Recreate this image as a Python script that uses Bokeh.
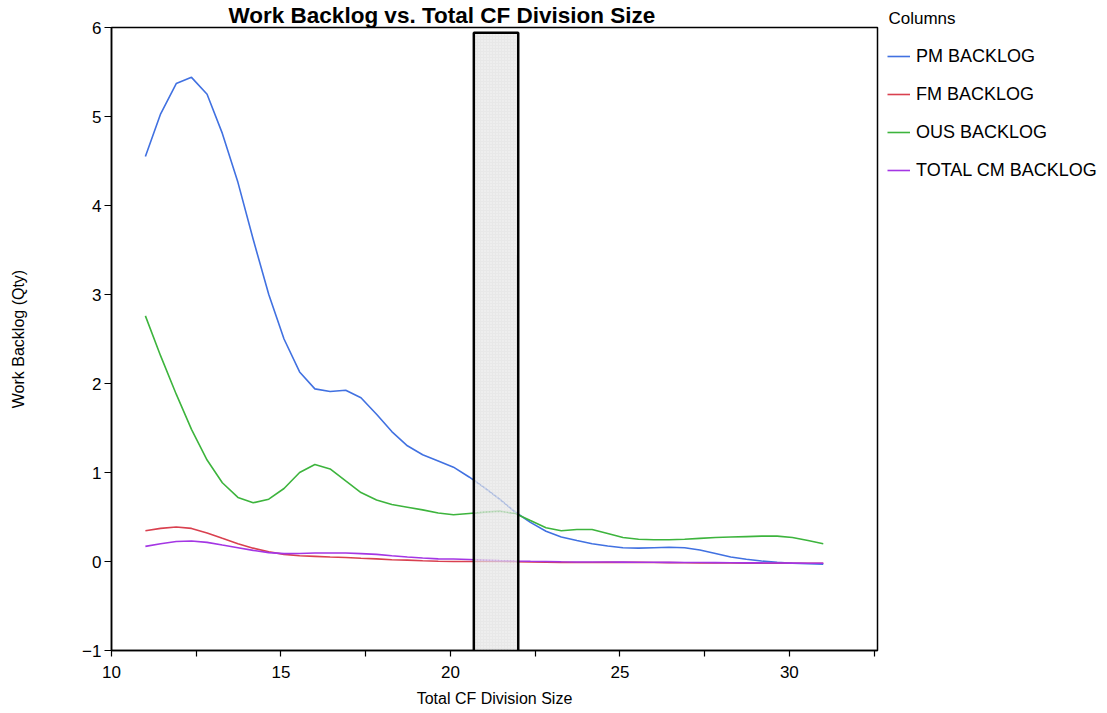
from bokeh.plotting import figure
from bokeh.layouts import row
from bokeh.models import Range1d, FixedTicker, Legend, LegendItem
from bokeh.embed import file_html
from bokeh.resources import INLINE

# Total CF division size (x) and the smoothed backlog curves
division_size = [11.00, 11.45, 11.91, 12.36, 12.82, 13.27, 13.73, 14.18, 14.64, 15.09,
                 15.55, 16.00, 16.45, 16.91, 17.36, 17.82, 18.27, 18.73, 19.18, 19.64,
                 20.09, 20.55, 21.00, 21.45, 21.91, 22.36, 22.82, 23.27, 23.73, 24.18,
                 24.64, 25.09, 25.55, 26.00, 26.45, 26.91, 27.36, 27.82, 28.27, 28.73,
                 29.18, 29.64, 30.09, 30.55, 31.00]

pm_backlog = [4.55, 5.03, 5.37, 5.44, 5.25, 4.81, 4.26, 3.62, 3.00, 2.50,
              2.13, 1.94, 1.91, 1.925, 1.84, 1.655, 1.46, 1.30, 1.20, 1.13,
              1.06, 0.95, 0.83, 0.70, 0.556, 0.44, 0.34, 0.275, 0.235, 0.20,
              0.175, 0.155, 0.15, 0.155, 0.16, 0.155, 0.13, 0.09, 0.05, 0.025,
              0.005, -0.01, -0.02, -0.025, -0.03]

fm_backlog = [0.345, 0.372, 0.387, 0.372, 0.32, 0.26, 0.20, 0.15, 0.11, 0.08,
              0.065, 0.058, 0.05, 0.045, 0.037, 0.03, 0.02, 0.015, 0.008, 0.003,
              0.0, 0.0, 0.002, 0.0, -0.002, -0.005, -0.008, -0.01, -0.012, -0.012,
              -0.01, -0.01, -0.01, -0.012, -0.013, -0.014, -0.015, -0.016, -0.017, -0.018,
              -0.019, -0.02, -0.02, -0.02, -0.02]

ous_backlog = [2.76, 2.31, 1.88, 1.485, 1.14, 0.885, 0.72, 0.66, 0.70, 0.82,
               1.00, 1.09, 1.04, 0.905, 0.775, 0.69, 0.64, 0.61, 0.58, 0.545,
               0.525, 0.54, 0.555, 0.565, 0.54, 0.46, 0.38, 0.345, 0.36, 0.36,
               0.315, 0.27, 0.25, 0.245, 0.245, 0.25, 0.26, 0.27, 0.275, 0.28,
               0.285, 0.285, 0.27, 0.235, 0.20]

total_cm_backlog = [0.17, 0.20, 0.225, 0.23, 0.215, 0.185, 0.155, 0.125, 0.10, 0.088,
                    0.09, 0.095, 0.095, 0.095, 0.088, 0.08, 0.065, 0.05, 0.04, 0.03,
                    0.028, 0.022, 0.016, 0.01, 0.006, 0.003, 0.0, -0.003, -0.005, -0.006,
                    -0.006, -0.007, -0.008, -0.009, -0.01, -0.011, -0.012, -0.013, -0.014, -0.015,
                    -0.016, -0.017, -0.018, -0.019, -0.02]

series_names = ["PM BACKLOG", "FM BACKLOG", "OUS BACKLOG", "TOTAL CM BACKLOG"]
series_values = [pm_backlog, fm_backlog, ous_backlog, total_cm_backlog]
series_colors = ["#4171e1", "#d9404f", "#3db43d", "#a436e4"]

# highlighted division-size band
band_x0, band_x1 = 20.69, 22.0
band_bottom, band_top = -1.01, 5.94

x_ticks = [10, 15, 20, 25, 30]
x_minor_ticks = [12.5, 17.5, 22.5, 27.5, 32.5]
y_ticks = [-1, 0, 1, 2, 3, 4, 5, 6]

FONT = "Liberation Sans"
LINE_W = 1.6

# ---- main chart ----
p = figure(width=879, height=713, output_backend="svg", toolbar_location=None,
           x_range=Range1d(10, 32.6), y_range=Range1d(-1, 6),
           min_border_left=111, min_border_right=2, min_border_top=0,
           min_border_bottom=63)
p.background_fill_color = "white"
p.border_fill_color = "white"
p.outline_line_color = "black"
p.outline_line_width = 1.5
p.grid.visible = False

p.title.text = "Work Backlog vs. Total CF Division Size"
p.title.align = "left"
p.title.offset = 117
p.title.standoff = 0
p.title.text_font = FONT
p.title.text_font_size = "22.5px"
p.title.text_font_style = "bold"
p.title.text_color = "black"

for vals, col in zip(series_values, series_colors):
    p.line(division_size, vals, line_color=col, line_width=LINE_W)

p.quad(left=[band_x0], right=[band_x1], bottom=[band_bottom], top=[band_top],
       fill_color="#dedede", fill_alpha=0.7,
       hatch_pattern="dot", hatch_color="#ffffff", hatch_alpha=0.7, hatch_scale=3,
       line_color="black", line_width=2.5)

for ax in (p.xaxis[0], p.yaxis[0]):
    ax.axis_line_color = "black"
    ax.axis_line_width = 1.5
    ax.major_tick_line_color = "black"
    ax.major_tick_line_width = 1.2
    ax.major_tick_in = 0
    ax.major_tick_out = 7
    ax.major_label_text_font = FONT
    ax.major_label_text_font_size = "17px"
    ax.major_label_text_color = "black"
    ax.axis_label_text_font = FONT
    ax.axis_label_text_font_size = "16px"
    ax.axis_label_text_font_style = "normal"
    ax.axis_label_text_color = "black"

p.xaxis.ticker = FixedTicker(ticks=x_ticks, minor_ticks=x_minor_ticks)
p.xaxis.minor_tick_line_color = "black"
p.xaxis.minor_tick_line_width = 1.2
p.xaxis.minor_tick_in = 0
p.xaxis.minor_tick_out = 6
p.xaxis.major_tick_out = 6
p.xaxis.major_label_standoff = 9
p.xaxis.axis_label = "Total CF Division Size"
p.xaxis.axis_label_standoff = 9

p.yaxis.ticker = FixedTicker(ticks=y_ticks)
p.yaxis.minor_tick_line_color = None
p.yaxis.major_label_standoff = 3
p.yaxis.axis_label = "Work Backlog (Qty)"
p.yaxis.axis_label_standoff = 52

# ---- legend panel to the right (its frame lines up with the chart's) ----
lg = figure(width=228, height=713, output_backend="svg", toolbar_location=None,
            x_range=Range1d(0, 1), y_range=Range1d(0, 1), min_border=0)
lg.axis.visible = False
lg.grid.visible = False
lg.outline_line_color = None
lg.background_fill_color = "white"
lg.border_fill_color = "white"

# legend heading drawn as this panel's title, above the frame
lg.title.text = "Columns"
lg.title.align = "left"
lg.title.offset = 9
lg.title.standoff = 0
lg.title.text_font = FONT
lg.title.text_font_size = "17px"
lg.title.text_font_style = "normal"
lg.title.text_color = "black"

# key lines kept outside the visible range; only their legend swatches show
keys = [lg.line([-10, -9], [-10, -9], line_color=col, line_width=LINE_W)
        for col in series_colors]

legend = Legend(
    items=[LegendItem(label=n, renderers=[r]) for n, r in zip(series_names, keys)],
    location=(8, 461),
    label_text_font=FONT, label_text_font_size="18px", label_text_color="black",
    glyph_width=23, glyph_height=38, label_height=38, label_standoff=6,
    spacing=0, padding=0, margin=0,
    border_line_color=None, background_fill_alpha=0,
)
lg.add_layout(legend, "center")

layout = row(p, lg)
open("out.html", "w").write(file_html(layout, INLINE))
